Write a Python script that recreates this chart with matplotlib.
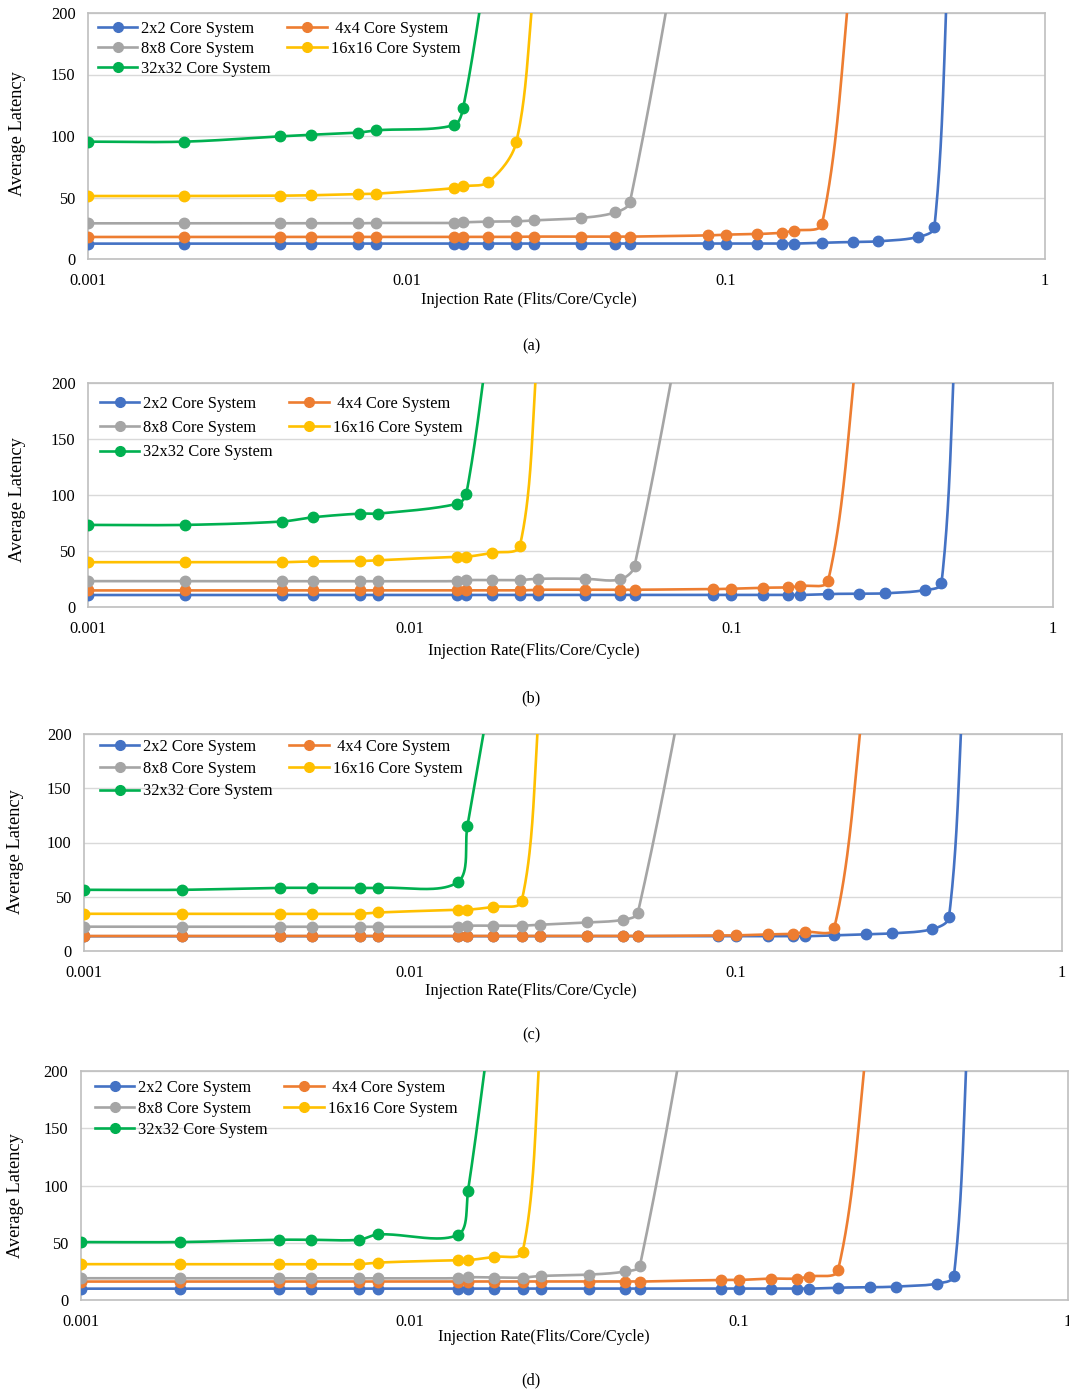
import matplotlib.pyplot as plt
import numpy as np
from matplotlib.lines import Line2D

plt.rcParams['font.family'] = ['Liberation Serif', 'DejaVu Serif']

# injection rates (flits/core/cycle) used by the simulations
rates = [0.001, 0.002, 0.004, 0.005, 0.007, 0.008, 0.014, 0.015, 0.018, 0.022,
         0.025, 0.035, 0.045, 0.05, 0.088, 0.1, 0.125, 0.15, 0.163, 0.2,
         0.25, 0.3, 0.4, 0.45]

names = ['2x2 Core System', '4x4 Core System', '8x8 Core System',
         '16x16 Core System', '32x32 Core System']
legend_names = ['2x2 Core System', ' 4x4 Core System', '8x8 Core System',
                '16x16 Core System', '32x32 Core System']
colors = ['#4472C4', '#ED7D31', '#A5A5A5', '#FFC000', '#00B050']

# rate of the first saturated point of each system (its latency is above 200)
sat_rates = [0.5, 0.25, 0.088, 0.025, 0.018]

# (a)
lat_a_2x2 = [12.5, 12.5, 12.5, 12.5, 12.5, 12.5, 12.5, 12.5, 12.5, 12.5, 12.5, 12.5,
             12.5, 12.5, 12.5, 12.5, 12.5, 12.5, 12.5, 13.3, 13.8, 14.4, 17.9, 25.7]
lat_a_4x4 = [17.9, 17.9, 17.9, 17.9, 17.9, 17.9, 17.9, 17.9, 17.9, 18.0, 18.2, 18.2,
             18.2, 18.2, 19.2, 19.8, 20.3, 21.4, 23.0, 28.5]
lat_a_8x8 = [29.0, 29.0, 29.0, 29.0, 29.0, 29.3, 29.3, 29.8, 30.4, 30.6, 31.4, 33.3,
             37.9, 46.3]
lat_a_16x16 = [51.2, 51.2, 51.5, 51.8, 52.8, 53.1, 57.5, 59.1, 62.6, 94.9]
lat_a_32x32 = [95.4, 95.4, 99.7, 101.0, 102.7, 104.6, 108.7, 123.0]
sat_a = [260, 250, 400, 222, 248]

# (b)
lat_b_2x2 = [10.7, 10.7, 10.7, 10.7, 10.7, 10.7, 10.7, 10.7, 10.7, 10.7, 10.7, 10.7,
             10.7, 10.7, 10.7, 10.7, 10.7, 10.7, 10.7, 11.6, 11.9, 12.2, 15.1, 21.0]
lat_b_4x4 = [14.8, 14.8, 14.8, 14.8, 14.8, 14.8, 14.8, 14.8, 14.8, 14.8, 15.4, 15.4,
             15.4, 15.4, 16.0, 16.3, 17.2, 17.5, 18.7, 23.4]
lat_b_8x8 = [23.1, 23.1, 23.1, 23.1, 23.1, 23.1, 23.1, 24.0, 24.0, 24.0, 25.2, 25.2,
             24.6, 36.5]
lat_b_16x16 = [40.0, 40.0, 40.0, 40.7, 41.0, 41.8, 44.8, 44.8, 48.4, 54.3]
lat_b_32x32 = [73.3, 73.3, 76.3, 80.1, 83.4, 83.4, 92.0, 100.9]
sat_b = [260, 250, 410, 228, 260]

# (c)
lat_c_2x2 = [13.6, 13.6, 13.6, 13.6, 13.6, 13.6, 13.6, 13.6, 13.6, 13.6, 13.6, 13.6,
             13.6, 13.6, 13.6, 13.6, 13.6, 13.6, 13.6, 14.4, 15.3, 16.2, 20.2, 30.9]
lat_c_4x4 = [13.8, 13.8, 13.8, 13.8, 13.8, 13.8, 13.8, 13.8, 13.8, 13.8, 13.8, 13.8,
             13.8, 13.8, 14.4, 14.4, 15.3, 15.9, 17.5, 20.8]
lat_c_8x8 = [22.4, 22.4, 22.4, 22.4, 22.4, 22.4, 22.4, 23.3, 23.3, 23.3, 24.2, 26.3,
             28.8, 35.2]
lat_c_16x16 = [34.3, 34.3, 34.3, 34.3, 34.3, 35.5, 38.0, 38.0, 40.7, 45.9]
lat_c_32x32 = [56.4, 56.4, 58.2, 58.2, 58.2, 58.2, 63.4, 115.2]
sat_c = [257, 250, 412, 229, 252]

# (d)
lat_d_2x2 = [9.9, 9.9, 9.9, 9.9, 9.9, 9.9, 9.9, 9.9, 9.9, 9.9, 9.9, 9.9,
             9.9, 9.9, 9.9, 9.9, 9.9, 9.9, 9.9, 10.8, 11.1, 11.7, 14.3, 21.0]
lat_d_4x4 = [16.1, 16.1, 16.1, 16.1, 16.1, 16.1, 16.1, 16.1, 16.1, 16.1, 16.1, 16.1,
             16.1, 16.1, 17.5, 17.5, 18.7, 18.7, 20.5, 26.0]
lat_d_8x8 = [19.0, 19.0, 19.0, 19.0, 19.0, 19.0, 19.0, 19.9, 19.6, 19.6, 21.0, 22.2,
             24.9, 30.1]
lat_d_16x16 = [31.3, 31.3, 31.3, 31.3, 31.3, 32.7, 34.8, 34.8, 37.7, 42.1]
lat_d_32x32 = [50.6, 50.6, 52.6, 52.6, 52.6, 57.3, 57.0, 95.0]
sat_d = [260, 249, 419, 230, 264]

panels = [
    ([lat_a_2x2, lat_a_4x4, lat_a_8x8, lat_a_16x16, lat_a_32x32], sat_a),
    ([lat_b_2x2, lat_b_4x4, lat_b_8x8, lat_b_16x16, lat_b_32x32], sat_b),
    ([lat_c_2x2, lat_c_4x4, lat_c_8x8, lat_c_16x16, lat_c_32x32], sat_c),
    ([lat_d_2x2, lat_d_4x4, lat_d_8x8, lat_d_16x16, lat_d_32x32], sat_d),
]
xlabels = ['Injection Rate (Flits/Core/Cycle)', 'Injection Rate(Flits/Core/Cycle)',
           'Injection Rate(Flits/Core/Cycle)', 'Injection Rate(Flits/Core/Cycle)']
tags = ['(a)', '(b)', '(c)', '(d)']

# layout, in pixels of the 1069x1393 picture
W, H = 1069, 1393
boxes = [(88, 1045, 13, 259), (88, 1053, 383, 607), (84, 1062, 734, 951), (81, 1068, 1071, 1300)]
xlabel_pos = [(529, 300), (534, 651), (531, 991), (544, 1337)]
tag_pos = [(531, 346), (531, 698), (531, 1035), (531, 1380)]
ylabel_pos = [(18, 134), (18, 500), (16, 852), (16, 1196)]
legend_pos = [(98, 30, 0.25), (100, 405, 0.5), (100, 748, 0.38), (95, 1089, 0.3)]

FS = 11.8


def smooth(xs, ys, sx, sy, n=40):
    # Excel-like smoothed line: Bezier segments in screen units (log x),
    # tangents scaled by the neighbouring segment lengths
    P = np.column_stack([np.log10(xs) * sx, np.array(ys, float) * sy])
    Q = np.vstack([P[0], P, P[-1]])
    t = np.linspace(0, 1, n)[:, None]
    segs = []
    for i in range(len(P) - 1):
        p_prev, p0, p1, p_next = Q[i], Q[i + 1], Q[i + 2], Q[i + 3]
        d0 = np.hypot(*(p0 - p_prev))
        d1 = np.hypot(*(p1 - p0))
        d2 = np.hypot(*(p_next - p1))
        c1 = p0 + (p1 - p_prev) * (d1 / (d0 + d1) / 3 if d0 + d1 > 0 else 0)
        c2 = p1 - (p_next - p0) * (d1 / (d1 + d2) / 3 if d1 + d2 > 0 else 0)
        segs.append((1 - t) ** 3 * p0 + 3 * (1 - t) ** 2 * t * c1
                    + 3 * (1 - t) * t ** 2 * c2 + t ** 3 * p1)
    pts = np.vstack(segs)
    return 10 ** (pts[:, 0] / sx), pts[:, 1] / sy


fig = plt.figure(figsize=(W / 100, H / 100), dpi=100)

for k, (series, sat) in enumerate(panels):
    l, r, t, b = boxes[k]
    ax = fig.add_axes([l / W, 1 - b / H, (r - l) / W, (b - t) / H])
    sx, sy = (r - l) / 3, (b - t) / 200
    for i, ys in enumerate(series):
        xs = rates[:len(ys)]
        cx, cy = smooth(xs + [sat_rates[i]], ys + [sat[i]], sx, sy)
        ax.plot(cx, cy, color=colors[i], lw=1.9, zorder=3 + i, solid_capstyle='round')
        ax.plot(xs, ys, 'o', color=colors[i], ms=7.5, zorder=3 + i)
    ax.set_xscale('log')
    ax.set_xlim(0.001, 1)
    ax.set_ylim(0, 200)
    ax.set_xticks([0.001, 0.01, 0.1, 1])
    ax.set_xticklabels(['0.001', '0.01', '0.1', '1'])
    ax.xaxis.set_minor_locator(plt.NullLocator())
    ax.set_yticks([0, 50, 100, 150, 200])
    ax.tick_params(length=0, labelsize=FS)
    ax.tick_params(axis='x', pad=10.2)
    ax.tick_params(axis='y', pad=9)
    ax.grid(axis='y', color='#D9D9D9', lw=1)
    ax.set_axisbelow(True)
    for sp in ax.spines.values():
        sp.set_color('#BFBFBF')
        sp.set_linewidth(1.2)

    handles = [Line2D([], [], color=colors[i], lw=1.9, marker='o', ms=7) for i in range(5)]
    order = [0, 2, 4, 1, 3]
    hx, hy, spacing = legend_pos[k]
    ax.legend([handles[i] for i in order], [legend_names[i] for i in order],
              loc='upper left', bbox_to_anchor=(hx / W, 1 - (hy - 9) / H),
              bbox_transform=fig.transFigure, ncol=2, frameon=False, fontsize=FS,
              borderpad=0, borderaxespad=0, handlelength=2.4, handletextpad=0.25,
              columnspacing=1.0, labelspacing=spacing)

    fig.text(xlabel_pos[k][0] / W, 1 - xlabel_pos[k][1] / H, xlabels[k],
             ha='center', va='center', fontsize=FS)
    fig.text(ylabel_pos[k][0] / W, 1 - ylabel_pos[k][1] / H, 'Average Latency',
             ha='center', va='center', rotation=90, fontsize=13.2)
    fig.text(tag_pos[k][0] / W, 1 - tag_pos[k][1] / H, tags[k],
             ha='center', va='center', fontsize=FS)

fig.savefig('out.png', dpi=100)
